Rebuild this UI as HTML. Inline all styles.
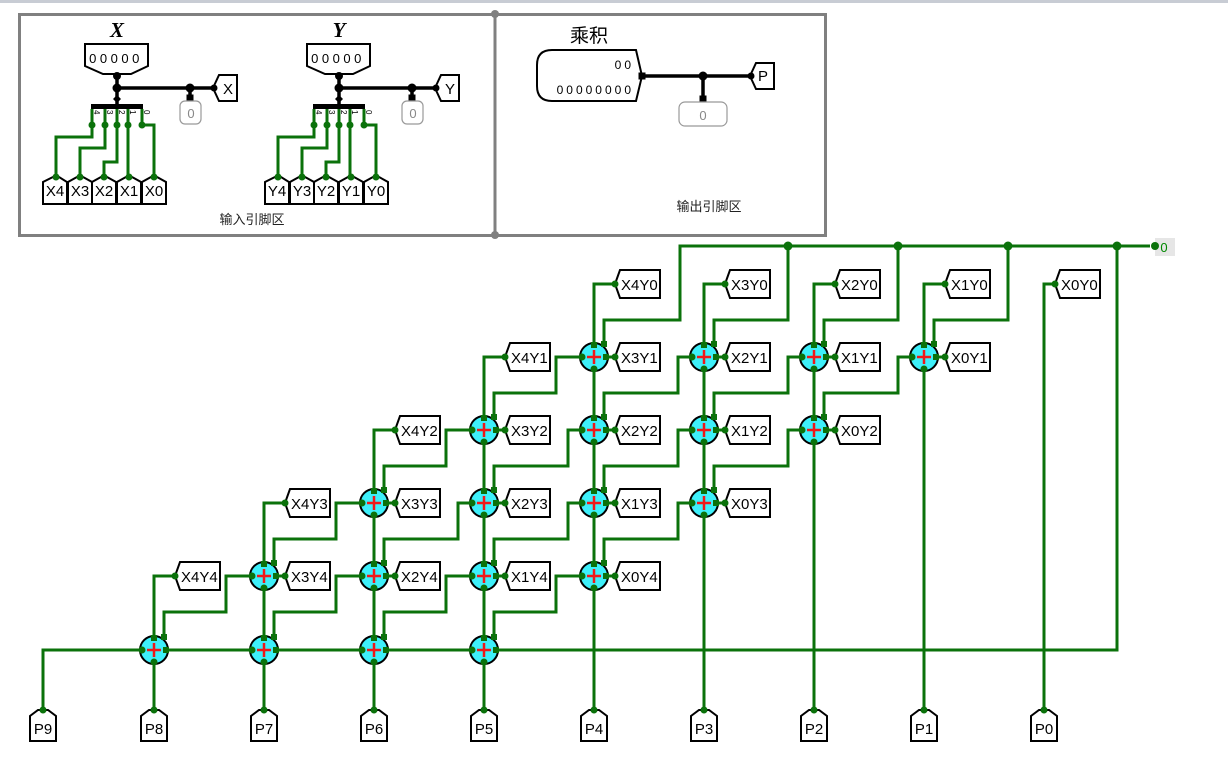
<!DOCTYPE html>
<html><head><meta charset="utf-8">
<style>
html,body{margin:0;padding:0;background:#fff;}
svg{display:block;}
text{font-family:"Liberation Sans","Noto Sans CJK SC",sans-serif;}
.lb{font-size:15px;fill:#000;}
.cj{font-family:"Liberation Sans","Noto Sans CJK SC",sans-serif;font-size:13px;fill:#222;}
.ser{font-family:"Liberation Serif",serif;font-style:italic;font-weight:bold;font-size:21px;}
</style></head>
<body>
<svg id="s" width="1228" height="765" viewBox="0 0 1228 765" xmlns="http://www.w3.org/2000/svg">
<rect x="0" y="0" width="1228" height="3" fill="#c8ccd4"/>
<g id="shapes"></g>
<rect x="19.5" y="14.5" width="806" height="221" fill="none" stroke="#808080" stroke-width="3"/>
<line x1="495" y1="14" x2="495" y2="236" stroke="#808080" stroke-width="3"/>
<circle cx="495" cy="14" r="4" fill="#808080"/><circle cx="495" cy="235" r="4" fill="#808080"/>
<g id="inp"></g>
<text x="117" y="37" class="ser" text-anchor="middle">X</text>
<text x="339" y="37" class="ser" text-anchor="middle">Y</text>
<text x="116" y="63" font-size="13" text-anchor="middle" letter-spacing="3.5">00000</text>
<text x="338" y="63" font-size="13" text-anchor="middle" letter-spacing="3.5">00000</text>
<text x="228" y="94" class="lb" text-anchor="middle">X</text>
<text x="450" y="94" class="lb" text-anchor="middle">Y</text>
<text x="191" y="118" font-size="13" fill="#888" text-anchor="middle">0</text>
<text x="413" y="118" font-size="13" fill="#888" text-anchor="middle">0</text>
<g font-size="8" fill="#000">
<text x="94" y="110" transform="rotate(90 94 110)">4</text><text x="107" y="110" transform="rotate(90 107 110)">3</text><text x="119" y="110" transform="rotate(90 119 110)">2</text><text x="130" y="110" transform="rotate(90 130 110)">1</text><text x="144" y="110" transform="rotate(90 144 110)">0</text>
<text x="316" y="110" transform="rotate(90 316 110)">4</text><text x="329" y="110" transform="rotate(90 329 110)">3</text><text x="341" y="110" transform="rotate(90 341 110)">2</text><text x="352" y="110" transform="rotate(90 352 110)">1</text><text x="366" y="110" transform="rotate(90 366 110)">0</text>
</g>
<g class="lb" text-anchor="middle">
<text x="55" y="196">X4</text><text x="80" y="196">X3</text><text x="104" y="196">X2</text><text x="129" y="196">X1</text><text x="154" y="196">X0</text>
<text x="277" y="196">Y4</text><text x="302" y="196">Y3</text><text x="326" y="196">Y2</text><text x="351" y="196">Y1</text><text x="376" y="196">Y0</text>
</g>
<text x="252" y="224" class="cj" text-anchor="middle">输入引脚区</text>
<text x="709" y="211" class="cj" text-anchor="middle">输出引脚区</text>
<text x="589" y="42" font-size="19" text-anchor="middle">乘积</text>
<text x="634" y="69" font-size="12" text-anchor="end" letter-spacing="3">00</text>
<text x="634" y="94" font-size="12" text-anchor="end" letter-spacing="3">00000000</text>
<text x="763" y="81" class="lb" text-anchor="middle">P</text>
<text x="703" y="120" font-size="13" fill="#888" text-anchor="middle">0</text>
<text x="1164" y="252" font-size="13" fill="#080" text-anchor="middle">0</text>
<g class="lb">
<text x="621" y="290">X4Y0</text><text x="731" y="290">X3Y0</text><text x="841" y="290">X2Y0</text><text x="951" y="290">X1Y0</text><text x="1061" y="290">X0Y0</text>
<text x="621" y="363">X3Y1</text><text x="731" y="363">X2Y1</text><text x="841" y="363">X1Y1</text><text x="951" y="363">X0Y1</text>
<text x="511" y="436">X3Y2</text><text x="621" y="436">X2Y2</text><text x="731" y="436">X1Y2</text><text x="841" y="436">X0Y2</text>
<text x="401" y="509">X3Y3</text><text x="511" y="509">X2Y3</text><text x="621" y="509">X1Y3</text><text x="731" y="509">X0Y3</text>
<text x="291" y="582">X3Y4</text><text x="401" y="582">X2Y4</text><text x="511" y="582">X1Y4</text><text x="621" y="582">X0Y4</text>
<text x="511" y="363">X4Y1</text><text x="401" y="436">X4Y2</text><text x="291" y="509">X4Y3</text><text x="181" y="582">X4Y4</text>
</g>
<g class="lb" text-anchor="middle">
<text x="43" y="734">P9</text><text x="154" y="734">P8</text><text x="264" y="734">P7</text><text x="374" y="734">P6</text><text x="484" y="734">P5</text><text x="594" y="734">P4</text><text x="704" y="734">P3</text><text x="814" y="734">P2</text><text x="924" y="734">P1</text><text x="1044" y="734">P0</text>
</g>
<script>
(function(){
var NS="http://www.w3.org/2000/svg";
var g=document.getElementById("shapes"), gi=document.getElementById("inp");
var G="#0b720b";
function el(p,t,a){var e=document.createElementNS(NS,t);for(var k in a)e.setAttribute(k,a[k]);p.appendChild(e);return e;}
function wire(p,pts,c,w){el(p,"polyline",{points:pts.map(function(q){return q.join(",")}).join(" "),fill:"none",stroke:c||G,"stroke-width":w||3,"stroke-linejoin":"miter"});}
function dot(p,x,y,r,c){el(p,"circle",{cx:x,cy:y,r:r||3.5,fill:c||G});}
function sq(p,x,y,s,c){el(p,"rect",{x:x-s/2,y:y-s/2,width:s,height:s,fill:c||G});}
var W=document.createElementNS(NS,"g"),S=document.createElementNS(NS,"g");g.appendChild(W);g.appendChild(S);
var ys=[357,430,503,576,650];
wire(W,[[680,318],[680,246],[1150,246]]);
[788,898,1008,1117].forEach(function(x){dot(S,x,246,4.5);});
el(S,"rect",{x:1155,y:238,width:20,height:18,fill:"#e6e6e6"});dot(S,1155,246,4);
wire(W,[[1117,246],[1117,650],[43,650],[43,712]]);
for(var r=0;r<5;r++){
 var y=ys[r];
 for(var k=0;k<4;k++){
  var c=594-110*r+110*k;
  var below=(r<4)&&(c>=594-110*(r+1))&&(c<=924-110*(r+1));
  if(below) wire(W,[[c,y],[c,ys[r+1]-13]]); else wire(W,[[c,y],[c,712]]);
  if(r<4){
   var off=(k==0||r==3)?38:26, yn=ys[r+1];
   wire(W,[[c-13,y],[c-off,y],[c-off,y+36],[c-100,y+36],[c-100,yn-13]]);
  }
  if(r<4){ wire(W,[[c+13,y],[c+24,y]]); }
  if(r==0){ var dx=(k==0)?86:84; wire(W,[[c+dx,246],[c+dx,320],[c+10,320],[c+10,344]]); }
 }
}
[594,704,814,924].forEach(function(c){wire(W,[[c+22,284],[c,284],[c,344]]);});
wire(W,[[1055,284],[1044,284],[1044,712]]);
for(var r=1;r<5;r++){var cl=594-110*r;wire(W,[[cl+24,ys[r-1]],[cl,ys[r-1]],[cl,ys[r]-13]]);}
function lab(x,y){el(S,"polygon",{points:[[x,y],[x+5,y-14],[x+45,y-14],[x+45,y+14],[x+5,y+14]].join(" "),fill:"#fff",stroke:"#000","stroke-width":2});dot(S,x,y,3.5);}
[594,704,814,924,1034].forEach(function(c){lab(c+21,284);});
for(var r=0;r<4;r++)for(var k=0;k<4;k++){lab(594-110*r+110*k+21,ys[r]);}
for(var r=1;r<5;r++){lab(594-110*r+21,ys[r-1]);}
[43,154,264,374,484,594,704,814,924,1044].forEach(function(x){el(S,"polygon",{points:[[x-13,741],[x-13,716],[x-5,710],[x+5,710],[x+13,716],[x+13,741]].join(" "),fill:"#fff",stroke:"#000","stroke-width":2});dot(S,x,710,3.5);});
for(var r=0;r<5;r++)for(var k=0;k<4;k++){
 var c=594-110*r+110*k,y=ys[r];
 el(S,"circle",{cx:c,cy:y,r:14,fill:"#3ef0fa",stroke:"#000","stroke-width":2});
 el(S,"path",{d:"M"+(c-7)+" "+y+"h14M"+c+" "+(y-7)+"v14",stroke:"#f01818","stroke-width":2.5});
 sq(S,c,y-12,6);sq(S,c+10,y-13,6);sq(S,c+12,y,6);dot(S,c-12,y,3.5);dot(S,c,y+12,3.5);
}
function inp(o){
 el(gi,"polygon",{points:[[o+85,44],[o+148,44],[o+148,66],[o+131,74],[o+103,74],[o+85,66]].join(" "),fill:"#fff",stroke:"#000","stroke-width":2});
 wire(gi,[[o+117,74],[o+117,106]],"#000",3.5);
 wire(gi,[[o+117,88],[o+216,88]],"#000",3.5);
 dot(gi,o+117,76,4,"#000");dot(gi,o+117,88,4.5,"#000");dot(gi,o+190,88,4.5,"#000");
 el(gi,"path",{d:"M"+(o+113)+" 99l4 -4l4 4l-4 4z",fill:"#000"});
 el(gi,"rect",{x:o+91,y:104,width:52,height:5,fill:"#000"});
 wire(gi,[[o+190,88],[o+190,100]],"#000",3.5);sq(gi,o+190,98,7,"#000");
 el(gi,"rect",{x:o+180,y:101,width:21,height:23,rx:5,fill:"#fff",stroke:"#999","stroke-width":1.2});
 el(gi,"polygon",{points:[[o+213,88],[o+219,75],[o+237,75],[o+237,101],[o+219,101]].join(" "),fill:"#fff",stroke:"#000","stroke-width":2});
 dot(gi,o+214,88,3.5,"#000");
 var gw=[[[92,109],[92,137],[56,137],[56,176]],[[105,109],[105,148],[80,148],[80,176]],[[117,109],[117,162],[104,162],[104,176]],[[128,109],[128,176]],[[142,109],[142,125],[154,125],[154,176]]];
 gw.forEach(function(p){wire(gi,p.map(function(q){return [q[0]+o,q[1]];}));dot(gi,p[0][0]+o,125,3.5);});
 [[43,56],[68,80],[92,104],[117,129],[142,154]].forEach(function(b){
  var x0=b[0]+o,x1=x0+24,cx=b[1]+o;
  el(gi,"polygon",{points:[[x0,204],[x0,182],[cx-3,177],[cx+3,177],[x1,182],[x1,204]].join(" "),fill:"#fff",stroke:"#000","stroke-width":2});
  dot(gi,cx,177,3.5);
 });
}
inp(0);inp(222);
el(gi,"path",{d:"M552 50 H636 L642 76 L636 101 H552 Q537 101 537 86 V65 Q537 50 552 50 Z",fill:"#fff",stroke:"#000","stroke-width":2});
wire(gi,[[642,76],[752,76]],"#000",3.5);dot(gi,703,76,4.5,"#000");sq(gi,642,76,7,"#000");
wire(gi,[[703,76],[703,100]],"#000",3.5);sq(gi,703,99,7,"#000");
el(gi,"rect",{x:679,y:102,width:48,height:24,rx:6,fill:"#fff",stroke:"#999","stroke-width":1.2});
el(gi,"polygon",{points:[[750,76],[756,63],[774,63],[774,89],[756,89]].join(" "),fill:"#fff",stroke:"#000","stroke-width":2});
dot(gi,751,76,3.5,"#000");
})();
</script>
</svg>
</body></html>
